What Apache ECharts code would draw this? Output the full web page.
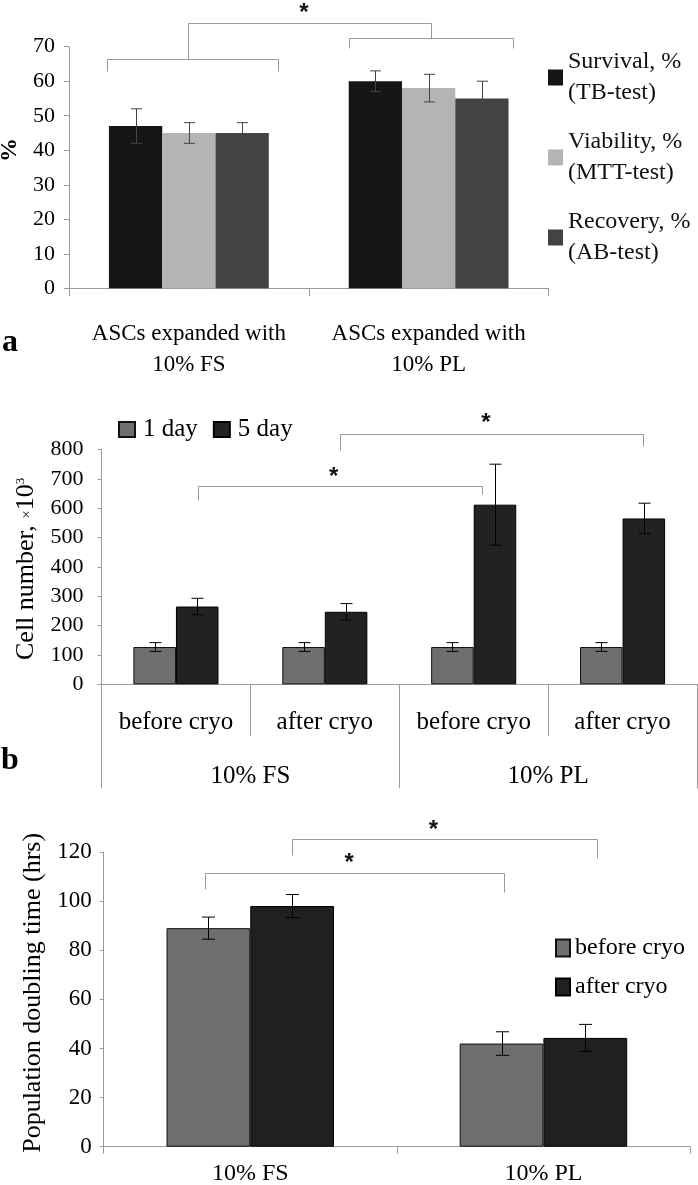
<!DOCTYPE html>
<html><head><meta charset="utf-8">
<script src="https://cdn.jsdelivr.net/npm/echarts@6/dist/echarts.min.js"></script>
<style>html,body{margin:0;padding:0;background:#fff}#c{width:698px;height:1185px}</style>
</head><body><div id="c"></div>
<script>
// ---------- Panel a data ----------
const catA = ['ASCs expanded with\n10% FS', 'ASCs expanded with\n10% PL'];
const namesA = ['Survival, %', 'Viability, %', 'Recovery, %'];
const subNamesA = ['(TB-test)', '(MTT-test)', '(AB-test)'];
const survival = [47, 60];
const survivalErr = [5, 3];
const viability = [45, 58];
const viabilityErr = [3, 4];
const recovery = [45, 55];
const recoveryErr = [3, 5];
const ticksA = { min: 0, max: 70, interval: 10 };

// ---------- Panel b data ----------
const catB = ['before cryo', 'after cryo', 'before cryo', 'after cryo'];
const groupB = ['10% FS', '10% PL'];
const namesB = ['1 day', '5 day'];
const day1 = [127, 127, 127, 127];
const day1Err = [15, 15, 15, 15];
const day5 = [265, 247, 612, 565];
const day5Err = [28, 28, 138, 52];
const ticksB = { min: 0, max: 800, interval: 100 };

// ---------- Panel c data ----------
const catC = ['10% FS', '10% PL'];
const namesC = ['before cryo', 'after cryo'];
const beforeCryo = [89, 42];
const beforeCryoErr = [4.5, 4.8];
const afterCryo = [98, 44.3];
const afterCryoErr = [4.7, 5.5];
const ticksC = { min: 0, max: 120, interval: 20 };

// ---------- significance annotations (category units / value units) ----------
// [uFrom, uTo, yLine, yDropFrom, yDropTo]
const bracketsA = [[-0.340, 0.372, 66.4, 63.05, 63.05], [0.666, 1.352, 72.6, 69.5, 69.5], [-0.004, 1.008, 76.95, 66.4, 72.6]];
const starsA = [[0.48, 81.6]];
const bracketsB = [[0.147, 2.058, 675.6, 627.9, 648.4], [1.099, 3.138, 852.8, 798.3, 811.9]];
const starsB = [[1.059, 726.8], [2.082, 911.8]];
const bracketsC = [[-0.154, 0.867, 111.6, 104.9, 103.8], [0.144, 1.184, 125.4, 118.8, 117.7]];
const starsC = [[0.337, 118.1], [0.625, 131.6]];

const SERIF = 'Liberation Serif';
const AX = '#9a9a9a';

function errData(vals, errs) { return vals.map((v, i) => [i, v - errs[i], v + errs[i]]); }
function errRender(k, n, gapFrac, cap, color) {
  return function (params, api) {
    const i = api.value(0), lo = api.value(1), hi = api.value(2);
    const band = api.size([1, 0])[0];
    const groupW = band * (1 - gapFrac);
    const barW = groupW / n;
    const pHi = api.coord([i, hi]), pLo = api.coord([i, lo]);
    const x = Math.round(pHi[0] - groupW / 2 + (k + 0.5) * barW) + 0.5;
    const style = { stroke: color, lineWidth: 1 };
    return { type: 'group', children: [
      { type: 'line', shape: { x1: x, y1: pHi[1], x2: x, y2: pLo[1] }, style },
      { type: 'line', shape: { x1: x - cap / 2, y1: pHi[1], x2: x + cap / 2, y2: pHi[1] }, style },
      { type: 'line', shape: { x1: x - cap / 2, y1: pLo[1], x2: x + cap / 2, y2: pLo[1] }, style }
    ] };
  };
}
function errSeries(xi, yi, vals, errs, k, n, gapFrac, cap, color) {
  return { type: 'custom', xAxisIndex: xi, yAxisIndex: yi, data: errData(vals, errs),
    renderItem: errRender(k, n, gapFrac, cap, color), z: 5, silent: true, clip: false };
}
function valueAxis(grid, t, fontSize, margin, tickLen, name, nameGap, nameStyle) {
  return { type: 'value', gridIndex: grid, min: t.min, max: t.max, interval: t.interval,
    axisLine: { show: true, lineStyle: { color: AX } },
    axisTick: { show: true, length: tickLen, lineStyle: { color: AX } },
    splitLine: { show: false },
    axisLabel: { color: '#000', fontFamily: SERIF, fontSize: fontSize, margin: margin },
    name: name, nameLocation: 'middle', nameGap: nameGap, nameRotate: 90,
    nameTextStyle: Object.assign({ color: '#000', fontFamily: SERIF }, nameStyle) };
}

const subMap = {}; namesA.forEach((n, i) => subMap[n] = subNamesA[i]);
const gapA = 1 / 3, gapB = 1.5 / 3.5, gapC = 1.5 / 3.5;

const option = {
  animation: false,
  backgroundColor: '#fff',
  grid: [
    { left: 69, top: 46.7, width: 479.5, height: 241.6, outerBoundsMode: 'none', containLabel: false },
    { left: 101.5, top: 449.5, width: 595.5, height: 234.8, outerBoundsMode: 'none', containLabel: false },
    { left: 103.7, top: 852, width: 586.3, height: 294.7, outerBoundsMode: 'none', containLabel: false }
  ],
  xAxis: [
    { type: 'category', gridIndex: 0, data: catA, position: 'bottom',
      axisLine: { lineStyle: { color: AX } }, axisTick: { show: true, interval: 0, length: 8, lineStyle: { color: AX } },
      axisLabel: { interval: 0, color: '#000', fontFamily: SERIF, fontSize: 23, lineHeight: 31, margin: 30 } },
    { type: 'category', gridIndex: 1, data: catB, position: 'bottom',
      axisLine: { lineStyle: { color: AX } }, axisTick: { show: true, interval: 0, length: 52, lineStyle: { color: AX } },
      axisLabel: { interval: 0, color: '#000', fontFamily: SERIF, fontSize: 25, margin: 26 } },
    { type: 'category', gridIndex: 1, data: groupB, position: 'bottom',
      axisLine: { show: false }, axisTick: { show: true, interval: 0, length: 104, lineStyle: { color: AX } },
      axisLabel: { interval: 0, color: '#000', fontFamily: SERIF, fontSize: 25, margin: 80 } },
    { type: 'category', gridIndex: 2, data: catC, position: 'bottom',
      axisLine: { lineStyle: { color: AX } }, axisTick: { show: true, interval: 0, length: 7, lineStyle: { color: AX } },
      axisLabel: { interval: 0, color: '#000', fontFamily: SERIF, fontSize: 24, margin: 15 } }
  ],
  yAxis: [
    valueAxis(0, ticksA, 22, 14, 5, '%', 44, { fontSize: 24, fontWeight: 'bold', padding: [0, 0, 0, 35] }),
    valueAxis(1, ticksB, 22, 18, 4, 'Cell number, {x|×}10{s|3}', 58,
      { fontSize: 26, padding: [0, 4, 0, 0], rich: { x: { fontSize: 15, fontFamily: SERIF, color: '#000' }, s: { fontSize: 13, fontFamily: SERIF, color: '#000', verticalAlign: 'top', lineHeight: 26 } } }),
    valueAxis(2, ticksC, 23, 12, 4, 'Population doubling time (hrs)', 57, { fontSize: 26, padding: [0, 0, 0, 13] })
  ],
  legend: [
    { orient: 'vertical', left: 548, top: 31, padding: 0, itemWidth: 15, itemHeight: 16, itemGap: -13, icon: 'rect',
      data: namesA, formatter: n => n + '\n' + subMap[n], selectedMode: false,
      textStyle: { fontFamily: SERIF, fontSize: 24, lineHeight: 31, color: '#111', padding: [31, 0, 0, 0] } },
    { orient: 'horizontal', left: 118, top: 417, padding: 0, itemWidth: 16, itemHeight: 15, itemGap: 15, icon: 'rect',
      data: namesB, selectedMode: false,
      textStyle: { fontFamily: SERIF, fontSize: 25, lineHeight: 25, color: '#000', padding: [0, 0, 0, 3] } },
    { orient: 'vertical', left: 555, top: 936, padding: 0, itemWidth: 14, itemHeight: 17, itemGap: 15, icon: 'rect',
      data: namesC, selectedMode: false,
      textStyle: { fontFamily: SERIF, fontSize: 24, lineHeight: 24, color: '#000' } }
  ],
  series: [
    { name: namesA[0], type: 'bar', xAxisIndex: 0, yAxisIndex: 0, data: survival, barGap: '0%', barCategoryGap: '33.333%', itemStyle: { color: '#151515' } },
    { name: namesA[1], type: 'bar', xAxisIndex: 0, yAxisIndex: 0, data: viability, barGap: '0%', barCategoryGap: '33.333%', itemStyle: { color: '#b4b4b4' } },
    { name: namesA[2], type: 'bar', xAxisIndex: 0, yAxisIndex: 0, data: recovery, barGap: '0%', barCategoryGap: '33.333%', itemStyle: { color: '#434343' } },
    errSeries(0, 0, survival, survivalErr, 0, 3, gapA, 11, '#444'),
    errSeries(0, 0, viability, viabilityErr, 1, 3, gapA, 11, '#444'),
    errSeries(0, 0, recovery, recoveryErr, 2, 3, gapA, 11, '#444'),

    { name: namesB[0], type: 'bar', xAxisIndex: 1, yAxisIndex: 1, data: day1, barGap: '0%', barCategoryGap: '42.857%', itemStyle: { color: '#6f6f6f', borderColor: '#111', borderWidth: 1 } },
    { name: namesB[1], type: 'bar', xAxisIndex: 1, yAxisIndex: 1, data: day5, barGap: '0%', barCategoryGap: '42.857%', itemStyle: { color: '#222222', borderColor: '#000', borderWidth: 1 } },
    errSeries(1, 1, day1, day1Err, 0, 2, gapB, 12, '#000'),
    errSeries(1, 1, day5, day5Err, 1, 2, gapB, 12, '#000'),

    { name: namesC[0], type: 'bar', xAxisIndex: 3, yAxisIndex: 2, data: beforeCryo, barGap: '0%', barCategoryGap: '42.857%', itemStyle: { color: '#6e6e6e', borderColor: '#111', borderWidth: 1 } },
    { name: namesC[1], type: 'bar', xAxisIndex: 3, yAxisIndex: 2, data: afterCryo, barGap: '0%', barCategoryGap: '42.857%', itemStyle: { color: '#202020', borderColor: '#000', borderWidth: 1 } },
    errSeries(3, 2, beforeCryo, beforeCryoErr, 0, 2, gapC, 13, '#000'),
    errSeries(3, 2, afterCryo, afterCryoErr, 1, 2, gapC, 13, '#000')
  ]
};

const chart = echarts.init(document.getElementById('c'), null, { renderer: 'canvas' });
chart.setOption(option);

const elements = [];
function toPx(xi, yi, u, v) {
  const c0 = chart.convertToPixel({ xAxisIndex: xi, yAxisIndex: yi }, [0, v]);
  const c1 = chart.convertToPixel({ xAxisIndex: xi, yAxisIndex: yi }, [1, v]);
  return [c0[0] + u * (c1[0] - c0[0]), c0[1]];
}
function addAnnotations(xi, yi, brackets, stars) {
  brackets.forEach(b => {
    const p1 = toPx(xi, yi, b[0], b[3]), p2 = toPx(xi, yi, b[0], b[2]);
    const p3 = toPx(xi, yi, b[1], b[2]), p4 = toPx(xi, yi, b[1], b[4]);
    const r = p => [Math.round(p[0]) + 0.5, Math.round(p[1]) + 0.5];
    elements.push({ type: 'polyline', silent: true, z: 10,
      shape: { points: [r(p1), r(p2), r(p3), r(p4)] },
      style: { stroke: '#999', lineWidth: 1, fill: null } });
  });
  stars.forEach(s => {
    const p = toPx(xi, yi, s[0], s[1]);
    const fs = 24;
    elements.push({ type: 'text', silent: true, z: 10, x: p[0], y: p[1] + 0.27 * fs,
      style: { text: '*', fontFamily: 'Liberation Sans', fontWeight: 'bold', fontSize: fs, fill: '#111', align: 'center', verticalAlign: 'middle' } });
  });
}
addAnnotations(0, 0, bracketsA, starsA);
addAnnotations(1, 1, bracketsB, starsB);
addAnnotations(3, 2, bracketsC, starsC);

// panel letters
[['a', 2, 327], ['b', 1, 745], ['c', 2, 1182]].forEach(l => {
  elements.push({ type: 'text', silent: true, x: l[1], y: l[2],
    style: { text: l[0], fontFamily: SERIF, fontWeight: 'bold', fontSize: 32, fill: '#000', align: 'left', verticalAlign: 'alphabetic' } });
});
chart.setOption({ graphic: { elements: elements } });
</script>
</body></html>
